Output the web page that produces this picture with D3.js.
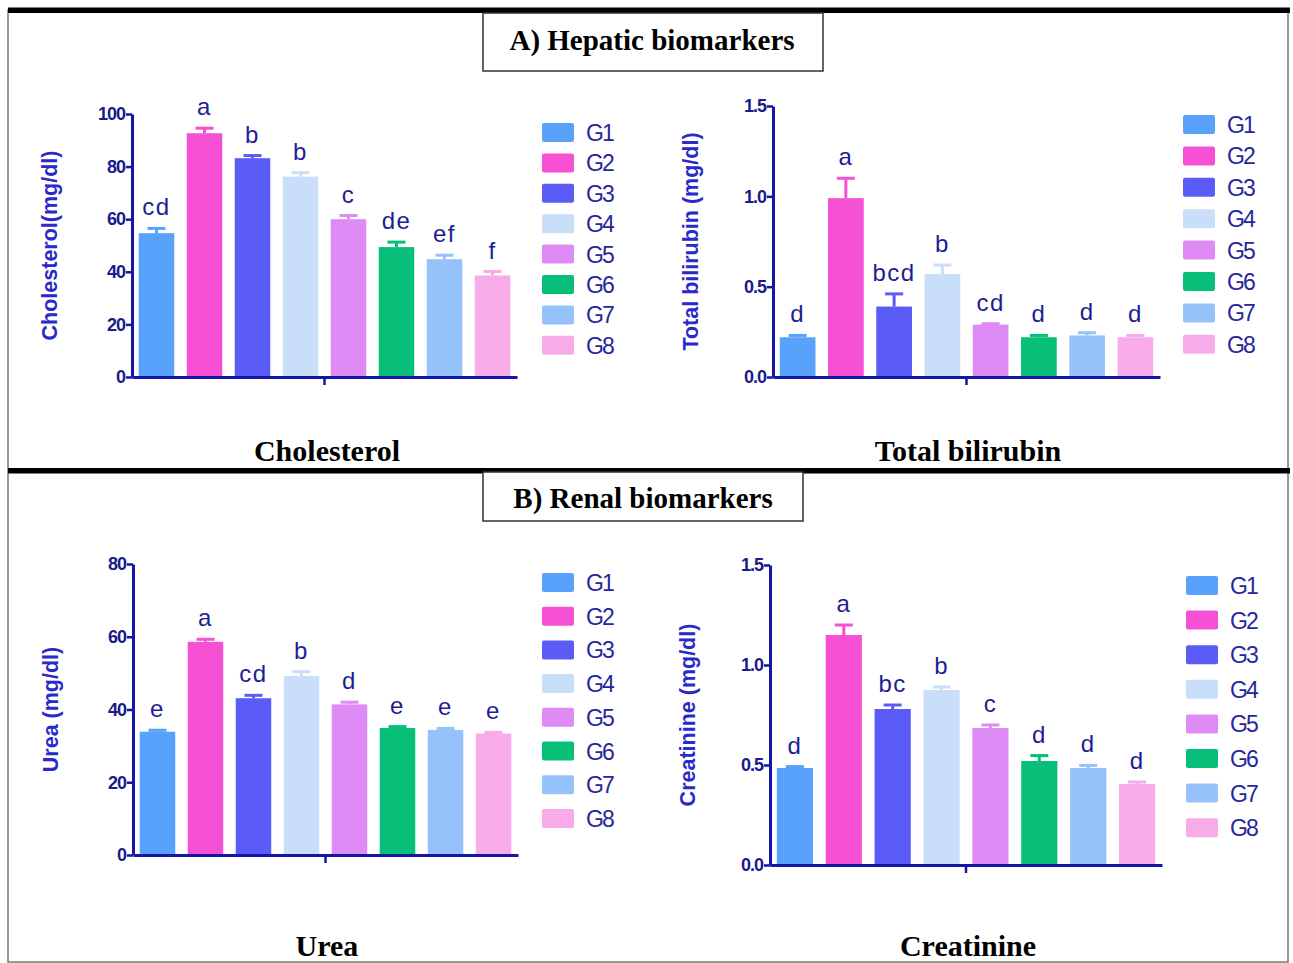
<!DOCTYPE html>
<meta charset="utf-8">
<style>
  body { margin: 0; background: #fff; }
  svg { display: block; }
</style>
<svg width="1293" height="963"></svg>
<script src="https://cdnjs.cloudflare.com/ajax/libs/d3/7.8.5/d3.min.js"></script>
<script>

// ---- data ----
var groups = ["G1", "G2", "G3", "G4", "G5", "G6", "G7", "G8"];
var barColors = ["#58a2fb", "#f650d4", "#5b5cf8", "#c9dff9", "#df8bf5", "#07bf78", "#95c2fa", "#f7abe8"];

var cholesterol        = [54.7, 92.7, 83.2, 76.2, 60.0, 49.4, 44.8, 38.6];
var cholesterolSem     = [1.8, 1.9, 1.0, 1.5, 1.4, 1.9, 1.5, 1.5];
var cholesterolLetters = ["cd", "a", "b", "b", "c", "de", "ef", "f"];
var cholesterolTicks   = [0, 20, 40, 60, 80, 100];

var bilirubin        = [0.22, 0.99, 0.39, 0.57, 0.29, 0.22, 0.23, 0.22];
var bilirubinSem     = [0.01, 0.11, 0.07, 0.05, 0.005, 0.01, 0.015, 0.01];
var bilirubinLetters = ["d", "a", "bcd", "b", "cd", "d", "d", "d"];
var bilirubinTicks   = [0, 0.5, 1.0, 1.5];

var urea        = [33.9, 58.6, 43.1, 49.2, 41.4, 34.9, 34.4, 33.4];
var ureaSem     = [0.4, 0.7, 0.8, 1.2, 0.6, 0.4, 0.4, 0.3];
var ureaLetters = ["e", "a", "cd", "b", "d", "e", "e", "e"];
var ureaTicks   = [0, 20, 40, 60, 80];

var creatinine        = [0.485, 1.15, 0.78, 0.875, 0.685, 0.52, 0.485, 0.405];
var creatinineSem     = [0.007, 0.05, 0.02, 0.015, 0.015, 0.027, 0.013, 0.01];
var creatinineLetters = ["d", "a", "bc", "b", "c", "d", "d", "d"];
var creatinineTicks   = [0, 0.5, 1.0, 1.5];

var svg = d3.select("svg");

var axisColor = "#1616a6",
    tickText = "#1a1a8c",
    titleBlue = "#2a2ac9",
    letterColor = "#1d1d94";

// frame + section bars
svg.append("rect")
    .attr("x", 8).attr("y", 10).attr("width", 1280).attr("height", 952)
    .attr("fill", "none").attr("stroke", "#777").attr("stroke-width", 1.5);
svg.append("rect").attr("x", 8).attr("y", 7.5).attr("width", 1282).attr("height", 5.5).attr("fill", "#000");
svg.append("rect").attr("x", 8).attr("y", 468).attr("width", 1282).attr("height", 5.5).attr("fill", "#000");

function header(x, y, w, h, text, cx, base) {
  svg.append("rect")
      .attr("x", x).attr("y", y).attr("width", w).attr("height", h)
      .attr("fill", "#fff").attr("stroke", "#333").attr("stroke-width", 1.5);
  svg.append("text")
      .attr("x", cx).attr("y", base)
      .attr("text-anchor", "middle")
      .attr("font-family", "Liberation Serif, Times New Roman, serif")
      .attr("font-weight", "bold")
      .attr("font-size", 29)
      .text(text);
}
header(483, 13, 340, 58, "A) Hepatic biomarkers", 652, 50);
header(483, 472, 320, 49, "B) Renal biomarkers", 643, 508);

var panels = [
  {name: "Cholesterol", yLabel: "Cholesterol(mg/dl)", mean: cholesterol, sem: cholesterolSem,
   letters: cholesterolLetters, ticks: cholesterolTicks, fmt: d3.format("d"),
   x0: 132, x1: 517, yTop: 114, yBot: 377, legX: 542, legY: 123, legStep: 30.4, titleX: 327, titleY: 461},
  {name: "Total bilirubin", yLabel: "Total bilirubin (mg/dl)", mean: bilirubin, sem: bilirubinSem,
   letters: bilirubinLetters, ticks: bilirubinTicks, fmt: d3.format(".1f"),
   x0: 773, x1: 1160, yTop: 106, yBot: 377, legX: 1183, legY: 115, legStep: 31.4, titleX: 968, titleY: 461},
  {name: "Urea", yLabel: "Urea (mg/dl)", mean: urea, sem: ureaSem,
   letters: ureaLetters, ticks: ureaTicks, fmt: d3.format("d"),
   x0: 133, x1: 518, yTop: 564, yBot: 855, legX: 542, legY: 573, legStep: 33.7, titleX: 327, titleY: 956},
  {name: "Creatinine", yLabel: "Creatinine (mg/dl)", mean: creatinine, sem: creatinineSem,
   letters: creatinineLetters, ticks: creatinineTicks, fmt: d3.format(".1f"),
   x0: 770, x1: 1162, yTop: 565, yBot: 865, legX: 1186, legY: 576, legStep: 34.6, titleX: 968, titleY: 956}
];

panels.forEach(function(p) {
  var g = svg.append("g");
  var rows = groups.map(function(k, i) {
    return {group: k, mean: p.mean[i], sem: p.sem[i], letter: p.letters[i], color: barColors[i]};
  });

  var x = d3.scaleBand().domain(groups).range([p.x0, p.x1]).paddingInner(0.26).paddingOuter(0.14);
  var y = d3.scaleLinear().domain([p.ticks[0], p.ticks[p.ticks.length - 1]]).range([p.yBot, p.yTop]);
  var xOuter = d3.scaleBand().domain([""]).range([p.x0, p.x1]);

  // bars
  g.selectAll("rect.bar").data(rows).enter().append("rect")
      .attr("class", "bar")
      .attr("x", function(d) { return x(d.group); })
      .attr("width", x.bandwidth())
      .attr("y", function(d) { return y(d.mean); })
      .attr("height", function(d) { return y(0) - y(d.mean); })
      .attr("fill", function(d) { return d.color; });

  // error bars (upper only)
  var eb = g.selectAll("g.err").data(rows).enter().append("g")
      .attr("stroke", function(d) { return d.color; })
      .attr("stroke-width", 3);
  eb.append("line")
      .attr("x1", function(d) { return x(d.group) + x.bandwidth() / 2; })
      .attr("x2", function(d) { return x(d.group) + x.bandwidth() / 2; })
      .attr("y1", function(d) { return y(d.mean); })
      .attr("y2", function(d) { return y(d.mean + d.sem); });
  eb.append("line")
      .attr("x1", function(d) { return x(d.group) + x.bandwidth() / 2 - 9; })
      .attr("x2", function(d) { return x(d.group) + x.bandwidth() / 2 + 9; })
      .attr("y1", function(d) { return y(d.mean + d.sem); })
      .attr("y2", function(d) { return y(d.mean + d.sem); });

  // significance letters
  g.selectAll("text.letter").data(rows).enter().append("text")
      .attr("x", function(d) { return x(d.group) + x.bandwidth() / 2; })
      .attr("y", function(d) { return y(d.mean + d.sem) - 13; })
      .attr("text-anchor", "middle")
      .attr("font-family", "Liberation Sans, Arial, sans-serif")
      .attr("font-size", 24)
      .attr("letter-spacing", 1.5)
      .attr("fill", letterColor)
      .text(function(d) { return d.letter; });

  // y axis
  var yAxis = g.append("g")
      .attr("transform", "translate(" + p.x0 + ",0)")
      .call(d3.axisLeft(y).tickValues(p.ticks).tickFormat(p.fmt).tickSize(6).tickSizeOuter(0).tickPadding(1));
  yAxis.select(".domain").attr("stroke", axisColor).attr("stroke-width", 3);
  yAxis.selectAll(".tick line").attr("stroke", axisColor).attr("stroke-width", 2.5);
  yAxis.selectAll(".tick text")
      .attr("fill", tickText)
      .attr("font-family", "Liberation Sans, Arial, sans-serif")
      .attr("font-weight", "bold")
      .attr("font-size", 18)
      .attr("letter-spacing", -1);

  // x axis (one category)
  var xAxis = g.append("g")
      .attr("transform", "translate(0," + y(0) + ")")
      .call(d3.axisBottom(xOuter).tickSize(8).tickSizeOuter(0));
  xAxis.select(".domain").attr("stroke", axisColor).attr("stroke-width", 3);
  xAxis.selectAll(".tick line").attr("stroke", axisColor).attr("stroke-width", 2.5);
  xAxis.selectAll(".tick text").remove();

  // y axis title
  g.append("text")
      .attr("transform", "translate(" + (p.x0 - 75) + "," + ((p.yTop + p.yBot) / 2) + ")rotate(-90)")
      .attr("text-anchor", "middle")
      .attr("font-family", "Liberation Sans, Arial, sans-serif")
      .attr("font-weight", "bold")
      .attr("font-size", 21.5)
      .attr("fill", titleBlue)
      .text(p.yLabel);

  // legend
  var leg = g.selectAll("g.leg").data(rows).enter().append("g")
      .attr("transform", function(d, i) { return "translate(" + p.legX + "," + (p.legY + i * p.legStep) + ")"; });
  leg.append("rect")
      .attr("width", 32).attr("height", 19).attr("rx", 2)
      .attr("fill", function(d) { return d.color; });
  leg.append("text")
      .attr("x", 44).attr("y", 18)
      .attr("font-family", "Liberation Sans, Arial, sans-serif")
      .attr("font-size", 23)
      .attr("letter-spacing", -2)
      .attr("fill", "#26269c")
      .text(function(d) { return d.group; });

  // panel title
  g.append("text")
      .attr("x", p.titleX).attr("y", p.titleY)
      .attr("text-anchor", "middle")
      .attr("font-family", "Liberation Serif, Times New Roman, serif")
      .attr("font-weight", "bold")
      .attr("font-size", 30)
      .text(p.name);
});

</script>
